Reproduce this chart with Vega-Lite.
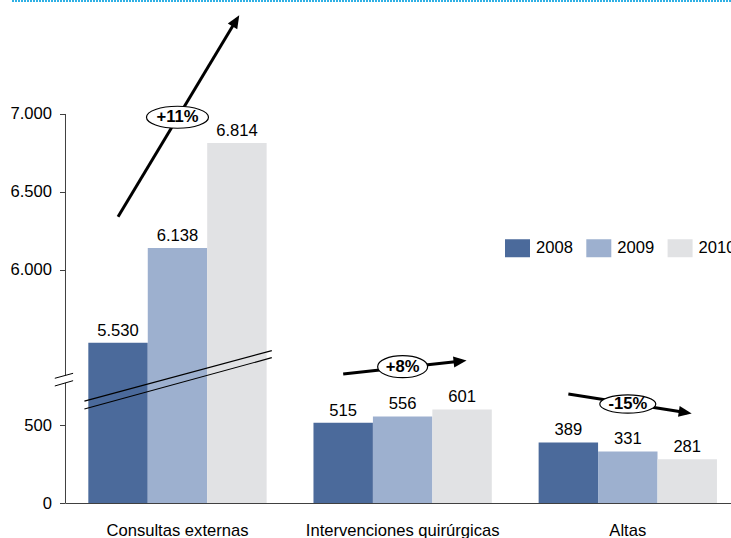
{
  "$schema": "https://vega.github.io/schema/vega-lite/v6.json",
  "width": 666,
  "height": 502,
  "autosize": {"type": "none"},
  "padding": {"left": 65, "top": 1, "right": 0, "bottom": 35},
  "background": "white",
  "config": {
    "font": "Liberation Sans",
    "view": {"stroke": null},
    "locale": {"number": {"decimal": ",", "thousands": ".", "grouping": [3], "currency": ["", " €"]}},
    "axis": {"labelFont": "Liberation Sans", "labelFontSize": 16.6, "labelColor": "#000", "title": null, "grid": false}
  },
  "datasets": {
    "main": [
      {"cat": "Consultas externas", "year": "2008", "v": 5530},
      {"cat": "Consultas externas", "year": "2009", "v": 6138},
      {"cat": "Consultas externas", "year": "2010", "v": 6814},
      {"cat": "Intervenciones quirúrgicas", "year": "2008", "v": 515},
      {"cat": "Intervenciones quirúrgicas", "year": "2009", "v": 556},
      {"cat": "Intervenciones quirúrgicas", "year": "2010", "v": 601},
      {"cat": "Altas", "year": "2008", "v": 389},
      {"cat": "Altas", "year": "2009", "v": 331},
      {"cat": "Altas", "year": "2010", "v": 281}
    ],
    "arrows": [
      {"arrow": "a1", "cat": "Consultas externas", "year": "2008", "v": 6339},
      {"arrow": "a1", "cat": "Consultas externas", "year": "2010", "v": 7610},
      {"arrow": "a2", "cat": "Intervenciones quirúrgicas", "year": "2008", "v": 829},
      {"arrow": "a2", "cat": "Intervenciones quirúrgicas", "year": "2010", "v": 912},
      {"arrow": "a3", "cat": "Altas", "year": "2008", "v": 700},
      {"arrow": "a3", "cat": "Altas", "year": "2010", "v": 580}
    ],
    "ellipses": [
      {"cat": "Consultas externas", "year": "2009", "v": 6979, "label": "+11%"},
      {"cat": "Intervenciones quirúrgicas", "year": "2009", "v": 876, "label": "+8%"},
      {"cat": "Altas", "year": "2009", "v": 636, "label": "-15%"}
    ],
    "breaks": [
      {"cat": "Consultas externas", "v": 655, "v2": 979},
      {"cat": "Consultas externas", "v": 604, "v2": 934}
    ],
    "deco": [
      {"part": "axis", "cat": "Consultas externas", "v": 0, "v2": 772},
      {"part": "axis", "cat": "Consultas externas", "v": 820, "v2": 7000},
      {"part": "axisbreak", "cat": "Consultas externas", "v": 797},
      {"part": "border", "cat": "Consultas externas", "cat2": "Altas", "v": 7726}
    ]
  },
  "encoding": {
    "x": {
      "field": "cat",
      "type": "nominal",
      "scale": {
        "domain": ["Consultas externas", "Intervenciones quirúrgicas", "Altas"],
        "paddingInner": 0.208,
        "paddingOuter": 0.083,
        "align": 0.624
      },
      "axis": {
        "domain": true,
        "domainColor": "#404040",
        "domainWidth": 1,
        "ticks": false,
        "tickSize": 0,
        "labelPadding": 19,
        "labelAngle": 0,
        "labelLimit": 400
      }
    },
    "y": {
      "field": "v",
      "type": "quantitative",
      "stack": null,
      "scale": {"domain": [0, 1000, 5500, 7726], "range": [502, 346.4, 346.4, 0], "nice": false, "zero": false},
      "axis": {
        "values": [0, 500, 6000, 6500, 7000],
        "format": ",d",
        "domain": false,
        "ticks": true,
        "tickSize": 5.5,
        "tickColor": "#404040",
        "labelPadding": 8
      }
    }
  },
  "layer": [
    {
      "data": {"name": "main"},
      "mark": {"type": "bar"},
      "encoding": {
        "xOffset": {"field": "year", "type": "nominal", "scale": {"domain": ["2008", "2009", "2010"], "paddingInner": 0, "paddingOuter": 0}},
        "color": {
          "field": "year",
          "type": "nominal",
          "scale": {"domain": ["2008", "2009", "2010"], "range": ["#4B6A9B", "#9DB0CF", "#E1E2E4"]},
          "legend": {
            "title": null,
            "orient": "none",
            "legendX": 440,
            "legendY": 234.5,
            "direction": "horizontal",
            "symbolType": "M-1,-0.72L1,-0.72L1,0.72L-1,0.72Z",
            "symbolSize": 625,
            "symbolStrokeWidth": 0,
            "symbolOpacity": 1,
            "labelFontSize": 16.6,
            "labelColor": "#000",
            "labelOffset": 6,
            "columnPadding": 13.3,
            "padding": 0
          }
        }
      }
    },
    {
      "data": {"name": "main"},
      "mark": {"type": "text", "baseline": "alphabetic", "dy": -7, "fontSize": 16.6, "color": "#000"},
      "encoding": {
        "xOffset": {"field": "year", "type": "nominal"},
        "text": {"field": "v", "type": "quantitative", "format": ",d"}
      }
    },
    {
      "data": {"name": "breaks"},
      "mark": {"type": "rule", "color": "#000", "strokeWidth": 1.2},
      "encoding": {
        "x": {"field": "cat", "type": "nominal", "bandPosition": -0.022},
        "x2": {"field": "cat", "bandPosition": 1.029},
        "y2": {"field": "v2"}
      }
    },
    {
      "data": {"name": "arrows"},
      "mark": {"type": "line", "color": "#000", "strokeWidth": 3, "strokeCap": "butt"},
      "encoding": {
        "xOffset": {"field": "year", "type": "nominal"},
        "detail": {"field": "arrow"}
      }
    },
    {
      "data": {"name": "arrows"},
      "transform": [{"filter": "datum.arrow == 'a1' && datum.year == '2010'"}],
      "mark": {"type": "point", "shape": "M0,-0.45L0.55,0.85L-0.55,0.85Z", "size": 400, "filled": true, "color": "#000", "opacity": 1, "strokeWidth": 0, "angle": 31.1},
      "encoding": {"xOffset": {"field": "year", "type": "nominal"}}
    },
    {
      "data": {"name": "arrows"},
      "transform": [{"filter": "datum.arrow == 'a2' && datum.year == '2010'"}],
      "mark": {"type": "point", "shape": "M0,-0.45L0.55,0.85L-0.55,0.85Z", "size": 400, "filled": true, "color": "#000", "opacity": 1, "strokeWidth": 0, "angle": 83.8},
      "encoding": {"xOffset": {"field": "year", "type": "nominal"}}
    },
    {
      "data": {"name": "arrows"},
      "transform": [{"filter": "datum.arrow == 'a3' && datum.year == '2010'"}],
      "mark": {"type": "point", "shape": "M0,-0.45L0.55,0.85L-0.55,0.85Z", "size": 400, "filled": true, "color": "#000", "opacity": 1, "strokeWidth": 0, "angle": 98.9},
      "encoding": {"xOffset": {"field": "year", "type": "nominal"}}
    },
    {
      "data": {"name": "ellipses"},
      "mark": {"type": "point", "filled": true, "fill": "#fff", "stroke": "#000", "strokeWidth": 1.2, "size": 3844, "opacity": 1},
      "encoding": {
        "xOffset": {"field": "year", "type": "nominal"},
        "shape": {
          "field": "label",
          "type": "nominal",
          "scale": {
            "domain": ["+11%", "+8%", "-15%"],
            "range": [
              "M-1,0C-1,-0.196 -0.552,-0.355 0,-0.355C0.552,-0.355 1,-0.196 1,0C1,0.196 0.552,0.355 0,0.355C-0.552,0.355 -1,0.196 -1,0Z",
              "M-0.806,0C-0.806,-0.196 -0.445,-0.355 0,-0.355C0.445,-0.355 0.806,-0.196 0.806,0C0.806,0.196 0.445,0.355 0,0.355C-0.445,0.355 -0.806,0.196 -0.806,0Z",
              "M-0.903,0C-0.903,-0.163 -0.499,-0.295 0,-0.295C0.499,-0.295 0.903,-0.163 0.903,0C0.903,0.163 0.499,0.295 0,0.295C-0.499,0.295 -0.903,0.163 -0.903,0Z"
            ]
          },
          "legend": null
        }
      }
    },
    {
      "data": {"name": "ellipses"},
      "mark": {"type": "text", "fontWeight": "bold", "fontSize": 16.6, "color": "#000", "baseline": "middle"},
      "encoding": {
        "xOffset": {"field": "year", "type": "nominal"},
        "text": {"field": "label"}
      }
    },
    {
      "data": {"name": "deco"},
      "transform": [{"filter": "datum.part == 'axis'"}],
      "mark": {"type": "rule", "color": "#404040", "strokeWidth": 1},
      "encoding": {
        "x": {"field": "cat", "type": "nominal", "bandPosition": -0.128},
        "y2": {"field": "v2"}
      }
    },
    {
      "data": {"name": "deco"},
      "transform": [{"filter": "datum.part == 'axisbreak'"}],
      "mark": {"type": "point", "shape": "M-1.07,-0.07L0.76,-0.57M-1.07,0.7L0.76,0.17", "size": 400, "filled": false, "stroke": "#000", "strokeWidth": 1, "opacity": 1},
      "encoding": {
        "x": {"field": "cat", "type": "nominal", "bandPosition": -0.128}
      }
    },
    {
      "data": {"name": "deco"},
      "transform": [{"filter": "datum.part == 'border'"}],
      "mark": {"type": "rule", "color": "#2fb0e4", "strokeWidth": 2, "strokeDash": [2, 1]},
      "encoding": {
        "x": {"field": "cat", "type": "nominal", "bandPosition": -0.428},
        "x2": {"field": "cat2", "bandPosition": 1.08}
      }
    }
  ]
}
